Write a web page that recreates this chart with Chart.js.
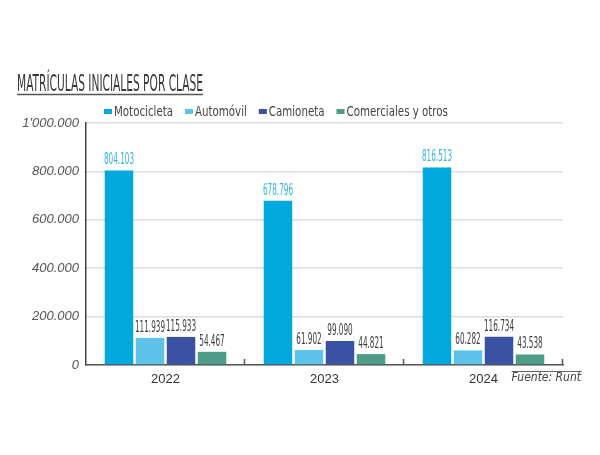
<!DOCTYPE html>
<html><head><meta charset="utf-8">
<script src="https://cdn.jsdelivr.net/npm/chart.js@4.4.1/dist/chart.umd.min.js"></script>
<style>html,body{margin:0;padding:0;background:#fff;}#wrap{width:600px;height:455px;position:relative;}</style>
</head><body><div id="wrap"><canvas id="c" width="600" height="455"></canvas></div>
<script>
const categories = ['2022', '2023', '2024'];
const seriesNames = ['Motocicleta', 'Automóvil', 'Camioneta', 'Comerciales y otros'];
const motocicleta = [804103, 678796, 816513];
const automovil = [111939, 61902, 60282];
const camioneta = [115933, 99090, 116734];
const comerciales = [54467, 44821, 43538];
const yTicks = [0, 200000, 400000, 600000, 800000, 1000000];
const yTickLabels = ['0', '200.000', '400.000', '600.000', '800.000', "1'000.000"];
const chartTitle = 'MATRÍCULAS INICIALES POR CLASE';
const sourceText = 'Fuente: Runt';
const colors = ['#00a8de', '#5cc4ea', '#3a51a4', '#4d9c87'];
const labelColors = ['#34b3e1', '#3d3d3d', '#3d3d3d', '#3d3d3d'];

const NARROW = '"Liberation Sans Narrow", "DejaVu Sans Condensed", sans-serif';

function fmt(v) { return String(v).replace(/\B(?=(\d{3})+(?!\d))/g, '.'); }

function scaledText(ctx, text, x, y, font, color, sx, align) {
  ctx.save();
  ctx.font = font; ctx.fillStyle = color; ctx.textBaseline = 'alphabetic'; ctx.textAlign = 'left';
  const w = ctx.measureText(text).width * sx;
  const x0 = align === 'center' ? x - w / 2 : (align === 'right' ? x - w : x);
  ctx.translate(x0, y); ctx.scale(sx, 1); ctx.fillText(text, 0, 0);
  ctx.restore();
  return w;
}

const decor = {
  id: 'decor',
  afterDraw(chart) {
    const ctx = chart.ctx;
    const area = chart.chartArea;
    // title
    ctx.save();
    ctx.font = '23px ' + NARROW;
    const tw = ctx.measureText(chartTitle).width;
    ctx.restore();
    scaledText(ctx, chartTitle, 17, 91, '23px ' + NARROW, '#383838', 186 / tw, 'left');
    ctx.save();
    ctx.strokeStyle = '#555'; ctx.lineWidth = 1.5;
    ctx.beginPath(); ctx.moveTo(17, 94.5); ctx.lineTo(203, 94.5); ctx.stroke();
    ctx.restore();

    // legend
    ctx.save(); ctx.font = '14px ' + NARROW;
    const lsx = 59 / ctx.measureText(seriesNames[0]).width;
    ctx.restore();
    let lx = 104;
    chart.data.datasets.forEach((ds, i) => {
      ctx.save(); ctx.fillStyle = ds.backgroundColor; ctx.fillRect(lx, 109, 8, 5); ctx.restore();
      const w = scaledText(ctx, ds.label, lx + 10, 116, '14px ' + NARROW, '#444', lsx, 'left');
      lx += 10 + w + 12;
    });

    // value labels
    ctx.save(); ctx.font = '15px ' + NARROW;
    const vsx = 30 / ctx.measureText('804.103').width;
    ctx.restore();
    chart.data.datasets.forEach((ds, i) => {
      const meta = chart.getDatasetMeta(i);
      meta.data.forEach((bar, j) => {
        scaledText(ctx, fmt(ds.data[j]), bar.x, bar.y - 6, '15px ' + NARROW, labelColors[i], vsx, 'center');
      });
    });

    // x tick marks pointing up
    const xs = chart.scales.x;
    const half = (xs.getPixelForValue(1) - xs.getPixelForValue(0)) / 2;
    ctx.save(); ctx.strokeStyle = '#555'; ctx.lineWidth = 1.5;
    for (let i = 0; i < categories.length; i++) {
      const x = Math.round(xs.getPixelForValue(i) + half) - 0.5;
      ctx.beginPath(); ctx.moveTo(x, area.bottom - 6); ctx.lineTo(x, area.bottom); ctx.stroke();
    }
    ctx.restore();

    // source
    const sw = scaledText(ctx, sourceText, 581, 381, 'italic 12px ' + NARROW, '#444', 1, 'right');
    ctx.save(); ctx.strokeStyle = '#666'; ctx.lineWidth = 1;
    ctx.beginPath(); ctx.moveTo(581 - sw, 371.5); ctx.lineTo(582, 371.5); ctx.stroke();
    ctx.restore();
  }
};

const seriesValues = [motocicleta, automovil, camioneta, comerciales];

new Chart(document.getElementById('c'), {
  type: 'bar',
  data: {
    labels: categories,
    datasets: seriesNames.map((name, i) => ({
      label: name,
      data: seriesValues[i],
      backgroundColor: colors[i],
      categoryPercentage: 0.78,
      barPercentage: 0.92
    }))
  },
  options: {
    responsive: false,
    animation: false,
    devicePixelRatio: 1,
    layout: { padding: { top: 123, left: 0, right: 37, bottom: 0 } },
    plugins: { legend: { display: false }, title: { display: false }, tooltip: { enabled: false } },
    scales: {
      x: {
        grid: { display: false },
        border: { display: true, color: '#555', width: 1.5 },
        ticks: { color: '#333', font: { family: '"Liberation Sans", Arial, sans-serif', size: 13 }, padding: -1 },
        afterFit: (s) => { s.height = 90; }
      },
      y: {
        min: 0, max: 1000000,
        afterBuildTicks: (s) => { s.ticks = yTicks.map(v => ({ value: v })); },
        grid: { color: '#dcdcdc', lineWidth: 1.5, drawTicks: false },
        border: { display: true, color: '#444', width: 1.5 },
        ticks: {
          color: '#555', padding: 7,
          font: { family: '"Liberation Sans", Arial, sans-serif', size: 13, style: 'italic' },
          callback: (v) => yTickLabels[yTicks.indexOf(v)]
        },
        afterFit: (s) => { s.width = 86; }
      }
    }
  },
  plugins: [decor]
});
</script></body></html>
